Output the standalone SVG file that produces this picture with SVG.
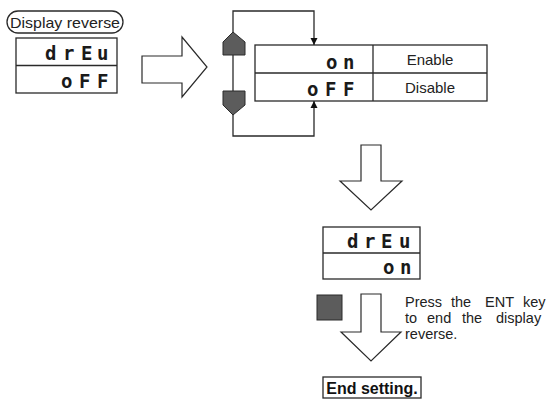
<svg xmlns="http://www.w3.org/2000/svg" width="551" height="400" viewBox="0 0 551 400">
<defs>
<style>
.ln{fill:none;stroke:#2a2a2a;stroke-width:1.3}
.bx{fill:#fff;stroke:#2a2a2a;stroke-width:1.3}
.gr{fill:#5c5c5c;stroke:#2a2a2a;stroke-width:1}
.big{fill:#fff;stroke:#2a2a2a;stroke-width:1.2;stroke-linejoin:miter}
.seg{font-family:"DejaVu Sans Mono",monospace;font-weight:bold;font-size:19px;fill:#1a1a1a}
.lbl{font-family:"Liberation Sans",Arial,sans-serif;font-size:15px;fill:#222}
.note{font-family:"Liberation Sans",Arial,sans-serif;font-size:14.5px;fill:#222}
.bold{font-family:"Liberation Sans",Arial,sans-serif;font-size:16px;font-weight:bold;fill:#111}
</style>
<marker id="ah" viewBox="0 0 10 10" refX="10" refY="5" markerWidth="7" markerHeight="9" markerUnits="userSpaceOnUse" orient="auto">
<path d="M0,0 L10,5 L0,10 Z" fill="#111"/>
</marker>
</defs>

<g id="label-display-reverse">
<rect x="7" y="11" width="116" height="22" rx="11" class="bx"/>
<text x="65" y="27.5" text-anchor="middle" class="lbl" font-size="16" textLength="110" lengthAdjust="spacingAndGlyphs">Display reverse</text>
</g>

<g id="display1">
<rect x="16" y="38" width="101" height="55" class="bx"/>
<line x1="16" y1="65.5" x2="117" y2="65.5" class="ln"/>
<text class="seg" x="45 63 81 97" y="60">drEu</text>
<text class="seg" x="61 79 97" y="88">oFF</text>
</g>

<g id="arrow-right">
<path d="M142,56 L182,56 L182,37 L207,67 L182,97 L182,83 L142,83 Z" class="big"/>
</g>

<g id="table">
<rect x="255" y="45" width="232" height="56" class="bx"/>
<line x1="255" y1="73" x2="487" y2="73" class="ln"/>
<line x1="373" y1="45" x2="373" y2="101" class="ln"/>
<text class="seg" x="326 343" y="69">on</text>
<text class="seg" x="307 325 343" y="96">oFF</text>
<text x="430" y="65" text-anchor="middle" class="lbl">Enable</text>
<text x="430" y="93" text-anchor="middle" class="lbl">Disable</text>
</g>

<g id="connectors">
<path d="M233,42 L233,11 L314,11 L314,45" class="ln" marker-end="url(#ah)"/>
<path d="M233,55 L233,91" class="ln"/>
<path d="M233,105 L233,136 L314,136 L314,101" class="ln" marker-end="url(#ah)"/>
</g>

<g id="key-up">
<path d="M233,32 L245,42 L245,55 L223,55 L223,42 Z" class="gr"/>
</g>
<g id="key-down">
<path d="M223,91 L245,91 L245,105 L233,115 L223,105 Z" class="gr"/>
</g>

<g id="arrow-down1">
<path d="M361,145 L381,145 L381,181 L402,181 L371,210 L340,181 L361,181 Z" class="big"/>
</g>

<g id="display2">
<rect x="323" y="227" width="97" height="52" class="bx"/>
<line x1="323" y1="253" x2="420" y2="253" class="ln"/>
<text class="seg" x="347 364 381 399" y="248">drEu</text>
<text class="seg" x="383 400" y="274">on</text>
</g>

<g id="ent-key">
<rect x="317" y="295" width="25" height="25" class="gr"/>
</g>

<g id="arrow-down2">
<path d="M361,294 L381,294 L381,332 L401,332 L371,361 L341,332 L361,332 Z" class="big"/>
</g>

<g id="note">
<text class="note" y="307"><tspan x="405">Press</tspan><tspan x="451">the</tspan><tspan x="485">ENT</tspan><tspan x="523">key</tspan></text>
<text class="note" y="323"><tspan x="405">to</tspan><tspan x="427">end</tspan><tspan x="462">the</tspan><tspan x="496">display</tspan></text>
<text class="note" x="405" y="339">reverse.</text>
</g>

<g id="end-setting">
<rect x="323" y="377" width="98" height="21" class="bx"/>
<text x="372" y="393.5" text-anchor="middle" class="bold">End setting.</text>
</g>
</svg>
